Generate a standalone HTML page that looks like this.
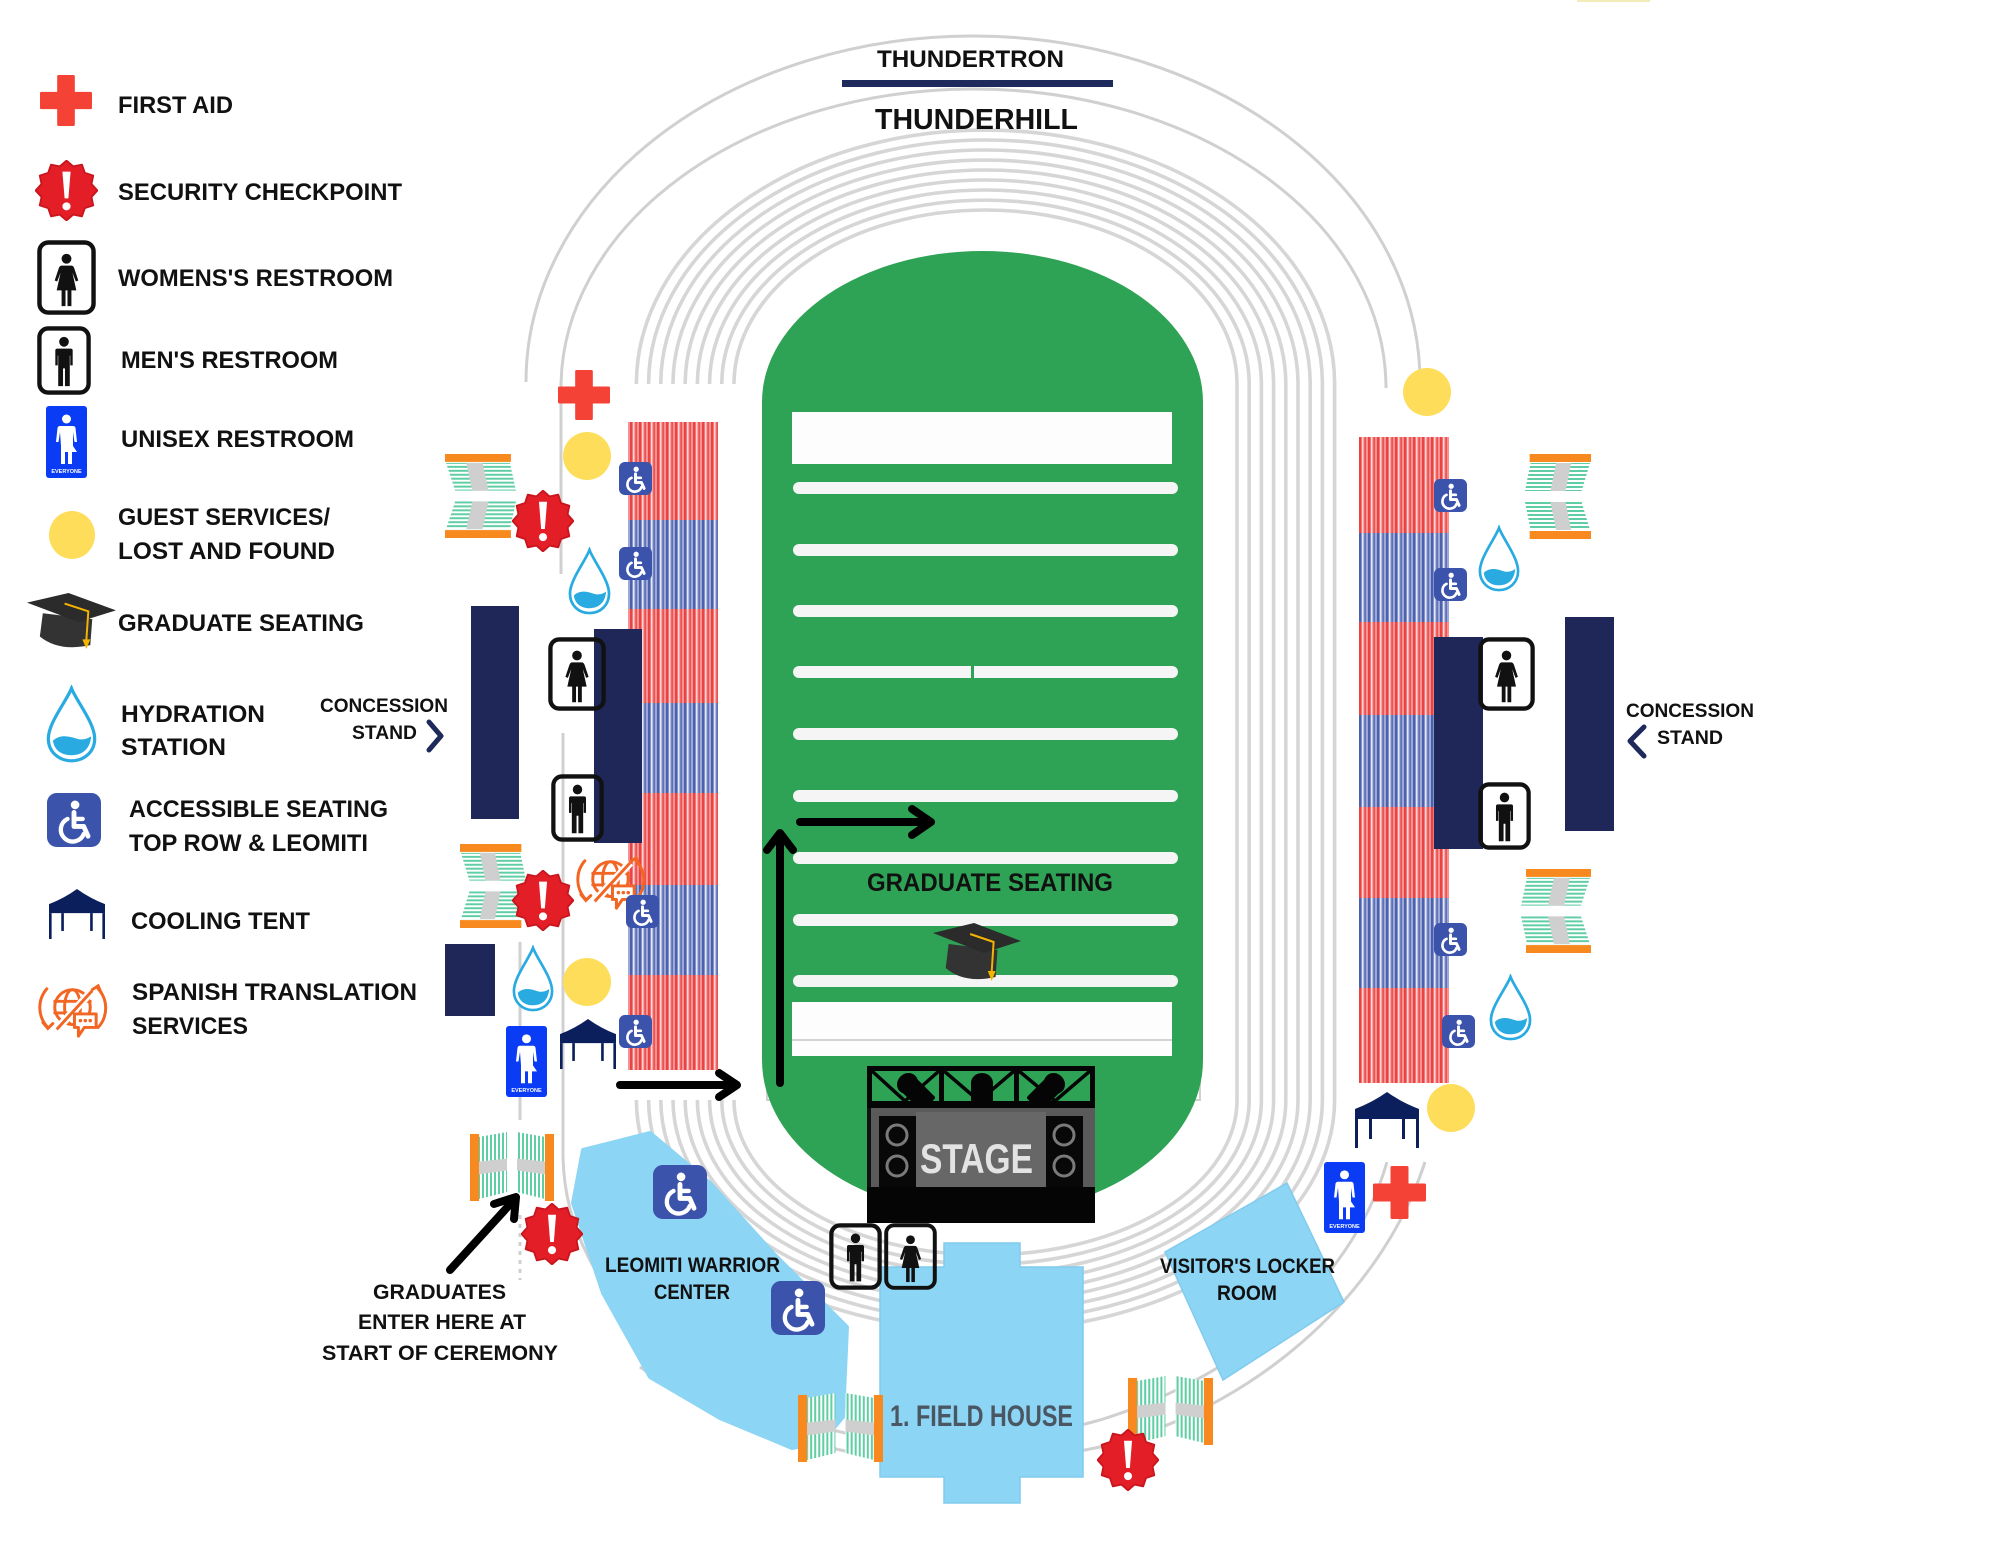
<!DOCTYPE html>
<html>
<head>
<meta charset="utf-8">
<style>
html,body{margin:0;padding:0;background:#fff;}
svg{display:block;}
text{font-family:"Liberation Sans",sans-serif;font-weight:bold;fill:#111;}
</style>
</head>
<body>
<svg width="2000" height="1545" viewBox="0 0 2000 1545" xmlns="http://www.w3.org/2000/svg">
<defs>
  <pattern id="rs" width="9" height="10" patternUnits="userSpaceOnUse">
    <rect width="9" height="10" fill="#f37575"/>
    <rect x="0" width="2" height="10" fill="#e84444"/>
    <rect x="3" width="1.5" height="10" fill="#fbd4d4"/>
    <rect x="5.5" width="1.5" height="10" fill="#ee5252"/>
    <rect x="7.5" width="1" height="10" fill="#f8b0b0"/>
  </pattern>
  <pattern id="bs" width="9" height="10" patternUnits="userSpaceOnUse">
    <rect width="9" height="10" fill="#8292cb"/>
    <rect x="0" width="2" height="10" fill="#4c60ac"/>
    <rect x="3" width="1.5" height="10" fill="#e4e8f6"/>
    <rect x="5.5" width="1.5" height="10" fill="#5f72b9"/>
    <rect x="7.5" width="1" height="10" fill="#b6c0e2"/>
  </pattern>
  <pattern id="hs" width="4" height="4" patternUnits="userSpaceOnUse">
    <rect width="4" height="4" fill="#fff"/>
    <rect width="4" height="2" fill="#5fcea4"/>
  </pattern>
  <pattern id="vs" width="4" height="4" patternUnits="userSpaceOnUse">
    <rect width="4" height="4" fill="#fff"/>
    <rect width="2" height="4" fill="#5fcea4"/>
  </pattern>

  <symbol id="cross" viewBox="-3 -3 106 106" preserveAspectRatio="none">
    <path d="M35 0 H65 V35 H100 V65 H65 V100 H35 V65 H0 V35 H35 Z" fill="#f44336" stroke="#f44336" stroke-width="6" stroke-linejoin="round"/>
  </symbol>

  <symbol id="sec" viewBox="0 0 100 100" preserveAspectRatio="none">
    <polygon points="50,1 60.6,10.4 74.5,7.6 79,21 92.4,25.5 89.6,39.4 99,50 89.6,60.6 92.4,74.5 79,79 74.5,92.4 60.6,89.6 50,99 39.4,89.6 25.5,92.4 21,79 7.6,74.5 10.4,60.6 1,50 10.4,39.4 7.6,25.5 21,21 25.5,7.6 39.4,10.4" fill="#e41e26" stroke="#c9151d" stroke-width="3" stroke-linejoin="round"/>
    <path d="M43.5 19 H56.5 L53 63 H47 Z" fill="#fff"/>
    <circle cx="50" cy="76" r="6.5" fill="#fff"/>
  </symbol>

  <symbol id="wc" viewBox="0 0 100 100" preserveAspectRatio="none">
    <rect width="100" height="100" rx="18" fill="#3b53ab"/>
    <circle cx="52" cy="22" r="8" fill="#fff"/>
    <path d="M50 36 V62 H68 L76 80" fill="none" stroke="#fff" stroke-width="9" stroke-linecap="round" stroke-linejoin="round"/>
    <path d="M50 48 H66" stroke="#fff" stroke-width="8" stroke-linecap="round"/>
    <path d="M38 48 A22 22 0 1 0 68 76" fill="none" stroke="#fff" stroke-width="8" stroke-linecap="round"/>
  </symbol>

  <symbol id="women" viewBox="0 0 60 76" preserveAspectRatio="none">
    <rect x="2.5" y="2.5" width="55" height="71" rx="9" fill="none" stroke="#111" stroke-width="4.5"/>
    <circle cx="30" cy="19" r="5" fill="#111"/>
    <path d="M25 26 H35 Q37 26 38 29 L42 41 L39.5 42 L36 33 L40 51 H20 L24 33 L20.5 42 L18 41 L22 29 Q23 26 25 26 Z" fill="#111"/>
    <rect x="25" y="50" width="4" height="17" fill="#111"/>
    <rect x="31" y="50" width="4" height="17" fill="#111"/>
  </symbol>

  <symbol id="men" viewBox="0 0 56 70" preserveAspectRatio="none">
    <rect x="2.5" y="2.5" width="51" height="65" rx="9" fill="none" stroke="#111" stroke-width="4.5"/>
    <circle cx="28" cy="16" r="5" fill="#111"/>
    <path d="M21 23 H35 Q37 23 37 25 V40 H34.5 V30 H34 V61 H29 V43 H27 V61 H22 V30 H21.5 V40 H19 V25 Q19 23 21 23 Z" fill="#111"/>
  </symbol>

  <symbol id="uni" viewBox="0 0 41 72" preserveAspectRatio="none">
    <rect width="41" height="72" rx="3" fill="#0a3cf5"/>
    <circle cx="20.5" cy="13" r="4.5" fill="#fff"/>
    <path d="M14 20 H27 Q29 20 29.5 22 L31 36 H28.5 L27 26 V40 L31 46 H26 V58 H22 V46 H19 V58 H15 V40 L14 26 L12.5 36 H10 L11.5 22 Q12 20 14 20 Z" fill="#fff"/>
    <text x="20.5" y="67" font-size="5.5" text-anchor="middle" style="fill:#fff">EVERYONE</text>
  </symbol>

  <symbol id="tent" viewBox="0 0 64 56" preserveAspectRatio="none">
    <path d="M0 17 Q18 10 32 0 Q46 10 64 17 V27 H0 Z" fill="#0b1f5c"/>
    <rect x="0" y="27" width="3" height="29" fill="#0b1f5c"/>
    <rect x="61" y="27" width="3" height="29" fill="#0b1f5c"/>
    <rect x="14" y="27" width="3" height="20" fill="#0b1f5c"/>
    <rect x="47" y="27" width="3" height="20" fill="#0b1f5c"/>
  </symbol>

  <symbol id="drop" viewBox="0 0 44 70" preserveAspectRatio="none">
    <path d="M22 3 C26 14 42 34 42 48 C42 60 33 68 22 68 C11 68 2 60 2 48 C2 34 18 14 22 3 Z" fill="#fff" stroke="#29abe2" stroke-width="2.8"/>
    <path d="M6 50 C12 44 20 46 26 48 C32 50 36 48 39 46 C38 58 31 63 22 63 C13 63 7 58 6 50 Z" fill="#29abe2"/>
  </symbol>

  <symbol id="gateH" viewBox="-4 0 71 85" preserveAspectRatio="none">
    <rect x="2" y="0" width="65" height="8" fill="#f7891e"/>
    <polygon points="3,9 66,9 57,37 -3,37" fill="url(#hs)"/>
    <polygon points="30,9 46,9 40,37 24,37" fill="#cfcfcf"/>
    <polygon points="-3,48 57,48 66,76 3,76" fill="url(#hs)"/>
    <polygon points="24,48 40,48 46,76 30,76" fill="#cfcfcf"/>
    <rect x="2" y="77" width="65" height="8" fill="#f7891e"/>
  </symbol>

  <symbol id="gateV" viewBox="0 0 84 72" preserveAspectRatio="none">
    <rect x="0" y="3" width="9" height="68" fill="#f7891e"/>
    <polygon points="9,6 37,1 37,62 9,69" fill="url(#vs)"/>
    <polygon points="9,31 37,28 37,40 9,44" fill="#cfcfcf"/>
    <polygon points="47,1 75,6 75,69 47,62" fill="url(#vs)"/>
    <polygon points="47,28 75,31 75,44 47,40" fill="#cfcfcf"/>
    <rect x="75" y="3" width="9" height="68" fill="#f7891e"/>
  </symbol>

  <symbol id="cap" viewBox="0 0 90 60" preserveAspectRatio="none">
    <path d="M16 22 L13 46 Q32 62 64 55 L66 28 Z" fill="#333"/>
    <polygon points="0,11 42,1 90,19 52,31" fill="#2b2b2b"/>
    <polyline points="38,12 62,20 60,50" fill="none" stroke="#f5b400" stroke-width="2"/>
    <polygon points="56,49 64,49 60,59" fill="#f5b400"/>
  </symbol>

  <symbol id="sp" viewBox="0 0 72 62" preserveAspectRatio="none">
    <g fill="none" stroke="#f26522" stroke-width="3" stroke-linecap="round">
      <circle cx="36" cy="27" r="18"/>
      <ellipse cx="36" cy="27" rx="8" ry="18"/>
      <path d="M18 21 H54 M18 33 H38"/>
      <path d="M10 8 A30 30 0 0 0 11 48"/>
      <path d="M6 43 L11 49 L16 44"/>
      <path d="M62 8 A30 30 0 0 1 62 48"/>
      <path d="M56 9 L62 5 L65 12"/>
    </g>
    <path d="M20 50 L56 10" stroke="#fff" stroke-width="8"/>
    <path d="M20 50 L56 10" stroke="#f26522" stroke-width="3"/>
    <path d="M38 34 H60 V48 H48 L42 57 V48 H38 Z" fill="#fff" stroke="#f26522" stroke-width="3" stroke-linejoin="round"/>
    <circle cx="44" cy="41" r="1.8" fill="#f26522"/>
    <circle cx="49" cy="41" r="1.8" fill="#f26522"/>
    <circle cx="54" cy="41" r="1.8" fill="#f26522"/>
  </symbol>
</defs>

<rect width="2000" height="1545" fill="#fff"/>
<rect x="1577" y="0" width="73" height="2" fill="#f3ecb8"/>

<!-- outer rings -->
<g fill="none" stroke="#d0d0d0" stroke-width="3">
  <path d="M526,382 A447,346 0 0 1 1420,382"/>
  <path d="M561,388 A412.5,299 0 0 1 1386,388"/>
  <path d="M561,388 V574"/>
  <path d="M563,733 V1157 C566,1300 700,1410 880,1440 C960,1452 1040,1437 1100,1420 C1230,1380 1350,1290 1387,1162"/>
  <path d="M520,942 V1120"/>
  <path d="M520,1215 V1280" stroke-dasharray="4 5"/>
  <path d="M640,1367 C700,1410 780,1440 880,1458 C950,1468 1030,1462 1100,1447 C1250,1410 1380,1300 1425,1162"/>
</g>

<!-- lanes -->
<g fill="none" stroke="#d6d6d6" stroke-width="3.6">
  <path d="M734,384 A251.5,174 0 0 1 1237,384 V1100 A251.5,155 0 0 1 734,1100"/>
  <path d="M721.8,384 A263.7,184 0 0 1 1249.2,384 V1100 A263.7,164.5 0 0 1 721.8,1100"/>
  <path d="M709.6,384 A275.9,194 0 0 1 1261.4,384 V1100 A275.9,174 0 0 1 709.6,1100"/>
  <path d="M697.4,384 A288.1,204 0 0 1 1273.6,384 V1100 A288.1,183.5 0 0 1 697.4,1100"/>
  <path d="M685.2,384 A300.3,214 0 0 1 1285.8,384 V1100 A300.3,193 0 0 1 685.2,1100"/>
  <path d="M673,384 A312.5,224 0 0 1 1298,384 V1100 A312.5,202.5 0 0 1 673,1100"/>
  <path d="M660.8,384 A324.7,234 0 0 1 1310.2,384 V1100 A324.7,212 0 0 1 660.8,1100"/>
  <path d="M648.6,384 A336.9,244 0 0 1 1322.4,384 V1100 A336.9,221.5 0 0 1 648.6,1100"/>
  <path d="M636.4,384 A349.1,254 0 0 1 1334.6,384 V1100 A349.1,231 0 0 1 636.4,1100"/>
</g>

<!-- title -->
<text x="877" y="67" font-size="24" textLength="187" lengthAdjust="spacingAndGlyphs">THUNDERTRON</text>
<rect x="842" y="80" width="271" height="7" fill="#1f2a5c"/>
<text x="875" y="129" font-size="29" textLength="203" lengthAdjust="spacingAndGlyphs">THUNDERHILL</text>

<!-- field -->
<rect x="767" y="388" width="433" height="712" fill="#fff" stroke="#d0d0d0" stroke-width="2"/>
<path d="M762,402 A220.5,151 0 0 1 1203,402 V1060 A220.5,155 0 0 1 762,1060 Z" fill="#2fa355"/>
<rect x="792" y="412" width="380" height="52" fill="#fdfdfd"/>
<g fill="#f5f5f5">
  <rect x="793" y="482" width="385" height="12" rx="6"/>
  <rect x="793" y="544" width="385" height="12" rx="6"/>
  <rect x="793" y="605" width="385" height="12" rx="6"/>
  <rect x="793" y="666" width="385" height="12" rx="6"/>
  <rect x="793" y="728" width="385" height="12" rx="6"/>
  <rect x="793" y="790" width="385" height="12" rx="6"/>
  <rect x="793" y="852" width="385" height="12" rx="6"/>
  <rect x="793" y="914" width="385" height="12" rx="6"/>
  <rect x="793" y="975" width="385" height="12" rx="6"/>
</g>
<rect x="971" y="666" width="3" height="12" fill="#2fa355"/>
<rect x="792" y="1002" width="380" height="54" fill="#fdfdfd"/>
<rect x="792" y="1039" width="380" height="2" fill="#d2d2d2"/>

<text x="867" y="891" font-size="25" textLength="246" lengthAdjust="spacingAndGlyphs">GRADUATE SEATING</text>
<use href="#cap" x="933" y="922" width="88" height="60"/>

<!-- field arrows -->
<g fill="none" stroke="#000" stroke-width="8" stroke-linecap="round" stroke-linejoin="round">
  <path d="M780,1083 V836"/>
  <path d="M767,850 L780,833 L793,850"/>
  <path d="M800,822 H929"/>
  <path d="M912,809 L931,822 L912,835"/>
  <path d="M620,1085 H735"/>
  <path d="M719,1073 L737,1085 L719,1097"/>
  <path d="M450,1270 L513,1201"/>
  <path d="M494,1204 L516,1197 L514,1219"/>
</g>

<!-- stands -->
<rect x="628" y="422" width="90" height="98" fill="url(#rs)"/>
<rect x="628" y="520" width="90" height="89" fill="url(#bs)"/>
<rect x="628" y="609" width="90" height="94" fill="url(#rs)"/>
<rect x="628" y="703" width="90" height="90" fill="url(#bs)"/>
<rect x="628" y="793" width="90" height="92" fill="url(#rs)"/>
<rect x="628" y="885" width="90" height="90" fill="url(#bs)"/>
<rect x="628" y="975" width="90" height="95" fill="url(#rs)"/>

<rect x="1359" y="437" width="90" height="96" fill="url(#rs)"/>
<rect x="1359" y="533" width="90" height="89" fill="url(#bs)"/>
<rect x="1359" y="622" width="90" height="93" fill="url(#rs)"/>
<rect x="1359" y="715" width="90" height="92" fill="url(#bs)"/>
<rect x="1359" y="807" width="90" height="91" fill="url(#rs)"/>
<rect x="1359" y="898" width="90" height="90" fill="url(#bs)"/>
<rect x="1359" y="988" width="90" height="95" fill="url(#rs)"/>

<!-- navy blocks -->
<g fill="#1f2759">
  <rect x="471" y="606" width="48" height="213"/>
  <rect x="594" y="629" width="48" height="214"/>
  <rect x="445" y="944" width="50" height="72"/>
  <rect x="1434" y="637" width="49" height="212"/>
  <rect x="1565" y="617" width="49" height="214"/>
</g>

<!-- light blue buildings -->
<path d="M583,1150 L650,1133 L710,1183 L773,1253 L847,1327 L843,1417 L822,1442 L792,1448 L720,1418 L650,1377 L603,1293 L573,1203 Z" fill="#8dd5f5" stroke="#8dd5f5" stroke-width="4" stroke-linejoin="round"/>
<path d="M880,1267 H944 V1243 H1020 V1267 H1083 V1477 H1020 V1503 H944 V1477 H880 Z" fill="#8dd5f5" stroke="#80cbee" stroke-width="1.5"/>
<polygon points="1287,1183 1344,1302 1223,1380 1165,1252" fill="#8dd5f5" stroke="#80cbee" stroke-width="1.5"/>

<!-- stage -->
<g>
  <rect x="867" y="1066" width="228" height="5" fill="#050505"/>
  <rect x="867" y="1101" width="228" height="7" fill="#050505"/>
  <rect x="867" y="1066" width="5" height="42" fill="#050505"/>
  <rect x="939" y="1066" width="5" height="42" fill="#050505"/>
  <rect x="1014" y="1066" width="5" height="42" fill="#050505"/>
  <rect x="1090" y="1066" width="5" height="42" fill="#050505"/>
  <path d="M872,1071 L905,1101 L939,1071 M944,1071 L979,1101 L1014,1071 M1019,1071 L1055,1101 L1090,1071" fill="none" stroke="#050505" stroke-width="3.5"/>
  <g fill="#050505">
    <g transform="rotate(-45 916 1092)">
      <rect x="906" y="1080" width="20" height="30" rx="2"/>
      <ellipse cx="916" cy="1080" rx="11" ry="10"/>
    </g>
    <rect x="971" y="1082" width="22" height="33" rx="2"/>
    <ellipse cx="982" cy="1083" rx="11" ry="10"/>
    <g transform="rotate(45 1046 1092)">
      <rect x="1036" y="1080" width="20" height="30" rx="2"/>
      <ellipse cx="1046" cy="1080" rx="11" ry="10"/>
    </g>
  </g>
  <rect x="867" y="1108" width="228" height="80" fill="#5a5a5a"/>
  <rect x="867" y="1108" width="4" height="80" fill="#111"/>
  <rect x="916" y="1112" width="130" height="75" fill="#676767"/>
  <rect x="879" y="1116" width="37" height="71" fill="#080808"/>
  <rect x="1046" y="1116" width="37" height="71" fill="#080808"/>
  <g fill="none" stroke="#7a7a7a" stroke-width="3">
    <circle cx="897" cy="1135" r="10"/>
    <circle cx="897" cy="1166" r="10"/>
    <circle cx="1064" cy="1135" r="10"/>
    <circle cx="1064" cy="1166" r="10"/>
  </g>
  <text x="920" y="1173" font-size="42" textLength="113" lengthAdjust="spacingAndGlyphs" style="fill:#e3e3e3">STAGE</text>
  <rect x="867" y="1187" width="228" height="36" fill="#050505"/>
</g>

<!-- restrooms -->
<use href="#men" x="829" y="1223" width="53" height="67"/>
<use href="#women" x="884" y="1223" width="53" height="67"/>
<use href="#women" x="548" y="637" width="58" height="74"/>
<use href="#men" x="551" y="774" width="53" height="68"/>
<use href="#women" x="1478" y="637" width="57" height="74"/>
<use href="#men" x="1478" y="782" width="53" height="68"/>
<use href="#uni" x="506" y="1026" width="41" height="71"/>
<use href="#uni" x="1324" y="1162" width="41" height="71"/>

<!-- first aid, yellow -->
<use href="#cross" x="558" y="370" width="52" height="50"/>
<use href="#cross" x="1373" y="1166" width="53" height="53"/>
<g fill="#fedd5b">
  <circle cx="587" cy="456" r="24"/>
  <circle cx="587" cy="982" r="24"/>
  <circle cx="1427" cy="392" r="24"/>
  <circle cx="1451" cy="1108" r="24"/>
</g>

<!-- gates -->
<use href="#gateH" x="445" y="454" width="72" height="84" transform="translate(962 0) scale(-1 1)"/>
<use href="#gateH" x="460" y="844" width="67" height="84" transform="translate(987 0) scale(-1 1)"/>
<use href="#gateH" x="1524" y="454" width="67" height="85"/>
<use href="#gateH" x="1520" y="869" width="71" height="84"/>
<use href="#gateV" x="470" y="1131" width="84" height="71"/>
<use href="#gateV" x="798" y="1392" width="85" height="71"/>
<use href="#gateV" x="1128" y="1375" width="85" height="71"/>

<!-- security -->
<use href="#sec" x="512" y="490" width="62" height="62"/>
<use href="#sec" x="512" y="870" width="62" height="61"/>
<use href="#sec" x="521" y="1203" width="62" height="62"/>
<use href="#sec" x="1097" y="1429" width="62" height="62"/>

<!-- drops -->
<use href="#drop" x="568" y="547" width="43" height="68"/>
<use href="#drop" x="512" y="945" width="42" height="67"/>
<use href="#drop" x="1478" y="525" width="42" height="67"/>
<use href="#drop" x="1489" y="974" width="43" height="67"/>

<!-- tents -->
<use href="#tent" x="560" y="1019" width="56" height="50"/>
<use href="#tent" x="1355" y="1092" width="64" height="56"/>

<!-- spanish -->
<use href="#sp" x="575" y="853" width="71" height="60"/>

<!-- wheelchair icons -->
<use href="#wc" x="619" y="462" width="33" height="33"/>
<use href="#wc" x="619" y="547" width="33" height="33"/>
<use href="#wc" x="626" y="895" width="33" height="33"/>
<use href="#wc" x="619" y="1015" width="33" height="33"/>
<use href="#wc" x="1434" y="479" width="33" height="33"/>
<use href="#wc" x="1434" y="568" width="33" height="33"/>
<use href="#wc" x="1434" y="923" width="33" height="33"/>
<use href="#wc" x="1442" y="1015" width="33" height="33"/>
<use href="#wc" x="653" y="1165" width="54" height="54"/>
<use href="#wc" x="771" y="1281" width="54" height="54"/>

<!-- map labels -->
<text x="1" y="1" font-size="1" style="fill:#fff"> </text>
<text x="890" y="1426" font-size="30" textLength="183" lengthAdjust="spacingAndGlyphs" style="fill:#4a5661">1. FIELD HOUSE</text>
<text x="605" y="1272" font-size="21" textLength="175" lengthAdjust="spacingAndGlyphs">LEOMITI WARRIOR</text>
<text x="654" y="1299" font-size="21" textLength="76" lengthAdjust="spacingAndGlyphs">CENTER</text>
<text x="1160" y="1273" font-size="21" textLength="175" lengthAdjust="spacingAndGlyphs">VISITOR'S LOCKER</text>
<text x="1217" y="1300" font-size="21" textLength="60" lengthAdjust="spacingAndGlyphs">ROOM</text>
<text x="373" y="1299" font-size="21" textLength="133" lengthAdjust="spacingAndGlyphs">GRADUATES</text>
<text x="358" y="1329" font-size="21" textLength="168" lengthAdjust="spacingAndGlyphs">ENTER HERE AT</text>
<text x="322" y="1360" font-size="21" textLength="236" lengthAdjust="spacingAndGlyphs">START OF CEREMONY</text>

<text x="320" y="712" font-size="19" textLength="128" lengthAdjust="spacingAndGlyphs">CONCESSION</text>
<text x="352" y="739" font-size="19" textLength="65" lengthAdjust="spacingAndGlyphs">STAND</text>
<path d="M429,722 L441,736 L429,750" fill="none" stroke="#1f2a5c" stroke-width="5" stroke-linecap="round" stroke-linejoin="round"/>
<text x="1626" y="717" font-size="19" textLength="128" lengthAdjust="spacingAndGlyphs">CONCESSION</text>
<text x="1657" y="744" font-size="19" textLength="66" lengthAdjust="spacingAndGlyphs">STAND</text>
<path d="M1644,727 L1630,741 L1644,756" fill="none" stroke="#1f2a5c" stroke-width="5" stroke-linecap="round" stroke-linejoin="round"/>

<!-- legend -->
<use href="#cross" x="40" y="75" width="52" height="51"/>
<use href="#sec" x="35" y="160" width="63" height="61"/>
<use href="#women" x="37" y="240" width="59" height="75"/>
<use href="#men" x="37" y="326" width="54" height="69"/>
<use href="#uni" x="46" y="406" width="41" height="72"/>
<ellipse cx="72" cy="535" rx="23" ry="24" fill="#fedd5b"/>
<use href="#cap" x="27" y="592" width="89" height="58"/>
<use href="#drop" x="46" y="685" width="51" height="78"/>
<use href="#wc" x="47" y="793" width="54" height="54"/>
<use href="#tent" x="49" y="889" width="56" height="50"/>
<use href="#sp" x="37" y="981" width="71" height="60"/>

<text x="118" y="113" font-size="24" textLength="115" lengthAdjust="spacingAndGlyphs">FIRST AID</text>
<text x="118" y="200" font-size="24" textLength="284" lengthAdjust="spacingAndGlyphs">SECURITY CHECKPOINT</text>
<text x="118" y="286" font-size="24" textLength="275" lengthAdjust="spacingAndGlyphs">WOMENS'S RESTROOM</text>
<text x="121" y="368" font-size="24" textLength="217" lengthAdjust="spacingAndGlyphs">MEN'S RESTROOM</text>
<text x="121" y="447" font-size="24" textLength="233" lengthAdjust="spacingAndGlyphs">UNISEX RESTROOM</text>
<text x="118" y="525" font-size="24" textLength="212" lengthAdjust="spacingAndGlyphs">GUEST SERVICES/</text>
<text x="118" y="559" font-size="24" textLength="217" lengthAdjust="spacingAndGlyphs">LOST AND FOUND</text>
<text x="118" y="631" font-size="24" textLength="246" lengthAdjust="spacingAndGlyphs">GRADUATE SEATING</text>
<text x="121" y="722" font-size="24" textLength="144" lengthAdjust="spacingAndGlyphs">HYDRATION</text>
<text x="121" y="755" font-size="24" textLength="105" lengthAdjust="spacingAndGlyphs">STATION</text>
<text x="129" y="817" font-size="24" textLength="259" lengthAdjust="spacingAndGlyphs">ACCESSIBLE SEATING</text>
<text x="129" y="851" font-size="24" textLength="239" lengthAdjust="spacingAndGlyphs">TOP ROW &amp; LEOMITI</text>
<text x="131" y="929" font-size="24" textLength="179" lengthAdjust="spacingAndGlyphs">COOLING TENT</text>
<text x="132" y="1000" font-size="24" textLength="285" lengthAdjust="spacingAndGlyphs">SPANISH TRANSLATION</text>
<text x="132" y="1034" font-size="24" textLength="116" lengthAdjust="spacingAndGlyphs">SERVICES</text>
</svg>
</body>
</html>
